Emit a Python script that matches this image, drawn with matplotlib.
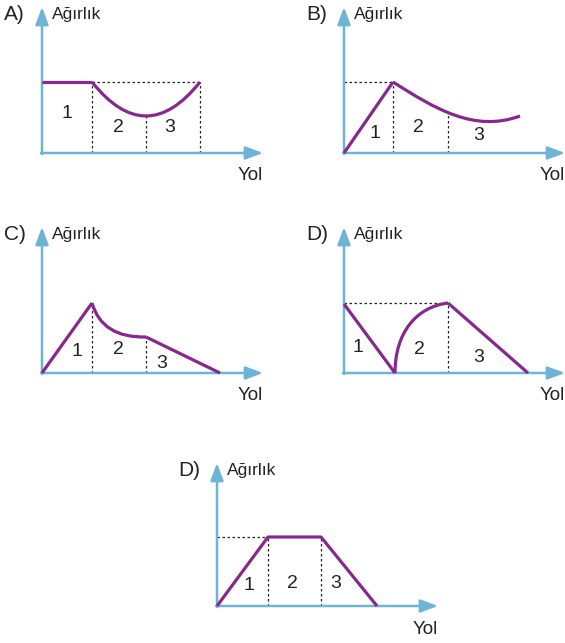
import matplotlib
matplotlib.use('Agg')
import matplotlib.pyplot as plt
from matplotlib.path import Path
from matplotlib.patches import PathPatch

plt.rcParams['font.family'] = ['Liberation Sans', 'DejaVu Sans']

W, H = 565, 643
BLUE = '#6db4d6'
PURPLE = '#86288e'
DOT = '#222222'

# ---- data (units ~ pixels from origin of each small graph) ----
letters = ['A)', 'B)', 'C)', 'D)', 'D)']

# A: flat, then U-shaped curve (quadratic bezier control points)
a_line_x = [0, 50]
a_line_y = [71, 71]
a_curve = [(50, 71), (104, 3), (158, 71)]
a_div_x = [50, 104, 158]
a_div_y = [71, 37, 71]
a_level = 71

# B: rising line, then falling/flattening curve (cubic)
b_line_x = [0, 49]
b_line_y = [0, 71]
b_curve = [(49, 71), (90, 45), (130, 20), (176, 37)]
b_div_x = [49, 104]
b_div_y = [71, 38]
b_level = 71

# C: rising line, decaying curve, falling line
c_line1_x = [0, 50]
c_line1_y = [0, 70]
c_curve = [(50, 70), (60, 35), (104, 36)]
c_line2_x = [104, 178]
c_line2_y = [36, 0]
c_div_x = [50, 104]
c_div_y = [70, 36]

# D: falling line, rising arc (cubic), falling line
d_line1_x = [0, 51]
d_line1_y = [69, 0]
d_curve = [(51, 0), (51, 40), (72, 66), (104, 70)]
d_line2_x = [104, 184]
d_line2_y = [70, 0]
d_div_x = [104]
d_div_y = [70]
d_level = 70

# E: trapezoid
e_x = [0, 51, 104, 160]
e_y = [0, 69, 69, 0]
e_div_x = [51, 104]
e_div_y = [69, 69]
e_level = 69

segment_labels = ['1', '2', '3']

# ---- layout ----
origins = [(42, 153), (344, 153), (42, 373), (344, 373), (217, 606)]
label_pos = [
    [(25, 40), (76, 25), (128, 25)],
    [(31, 20), (74, 25), (135, 18)],
    [(35, 21), (76, 23), (120, 10)],
    [(14, 25), (75, 23), (135, 16)],
    [(32, 21), (75, 23), (119, 23)],
]
XL, XR, YB, YT = -50, 230, -35, 150

fig = plt.figure(figsize=(W / 100, H / 100), dpi=100)
fig.patch.set_facecolor('white')

axes = []
for i, (ox, oy) in enumerate(origins):
    left = (ox + XL) / W
    bottom = (H - (oy - YB)) / H
    ax = fig.add_axes([left, bottom, (XR - XL) / W, (YT - YB) / H])
    ax.set_xlim(XL, XR)
    ax.set_ylim(YB, YT)
    ax.axis('off')
    top = 143 if i == 4 else 146
    # axes arrows
    arrow = dict(arrowstyle='-|>,head_length=0.75,head_width=0.28', color=BLUE,
                 lw=1.8, shrinkA=0, shrinkB=0, mutation_scale=14)
    ax.annotate('', xy=(0, top), xytext=(0, -1), arrowprops=arrow,
                annotation_clip=False)
    ax.annotate('', xy=(221, 0), xytext=(-1, 0), arrowprops=arrow,
                annotation_clip=False)
    lx = -39 if i == 4 else -38
    ty = 135 if i == 4 else 138
    ax.text(lx, ty, letters[i], fontsize=15, ha='left', va='center',
            color='#222222', clip_on=False)
    ax.text(10, ty, 'Ağırlık', fontsize=12.5, ha='left', va='center',
            color='#222222', clip_on=False)
    ax.text(221, -23 if i == 4 else -22, 'Yol', fontsize=13.5, ha='right',
            va='center', color='#222222', clip_on=False)
    for s, (tx, tyy) in zip(segment_labels, label_pos[i]):
        ax.text(tx, tyy, s, fontsize=14, ha='center', va='center',
                color='#222222')
    axes.append(ax)


def dotted_h(ax, x0, x1, y):
    ax.plot([x0, x1], [y, y], color=DOT, lw=0.9, ls=(0, (2, 2)), zorder=1)


def dotted_v(ax, xs, ys):
    for x, y in zip(xs, ys):
        ax.plot([x, x], [0, y], color=DOT, lw=0.9, ls=(0, (2, 2)), zorder=1)


def curve(ax, pts):
    if len(pts) == 3:
        codes = [Path.MOVETO, Path.CURVE3, Path.CURVE3]
    else:
        codes = [Path.MOVETO, Path.CURVE4, Path.CURVE4, Path.CURVE4]
    ax.add_patch(PathPatch(Path(pts, codes), fill=False, edgecolor=PURPLE,
                           lw=2.3, zorder=3))


def line(ax, xs, ys):
    ax.plot(xs, ys, color=PURPLE, lw=2.3, zorder=3, solid_capstyle='butt')


# A
ax = axes[0]
dotted_h(ax, a_div_x[0], a_div_x[-1], a_level)
dotted_v(ax, a_div_x, a_div_y)
line(ax, a_line_x, a_line_y)
curve(ax, a_curve)

# B
ax = axes[1]
dotted_h(ax, 0, b_div_x[0], b_level)
dotted_v(ax, b_div_x, b_div_y)
line(ax, b_line_x, b_line_y)
curve(ax, b_curve)

# C
ax = axes[2]
dotted_v(ax, c_div_x, c_div_y)
line(ax, c_line1_x, c_line1_y)
curve(ax, c_curve)
line(ax, c_line2_x, c_line2_y)

# D
ax = axes[3]
dotted_h(ax, 0, d_div_x[0], d_level)
dotted_v(ax, d_div_x, d_div_y)
line(ax, d_line1_x, d_line1_y)
curve(ax, d_curve)
line(ax, d_line2_x, d_line2_y)

# E
ax = axes[4]
dotted_h(ax, 0, e_div_x[0], e_level)
dotted_v(ax, e_div_x, e_div_y)
line(ax, e_x, e_y)

fig.savefig('out.png', dpi=100)
